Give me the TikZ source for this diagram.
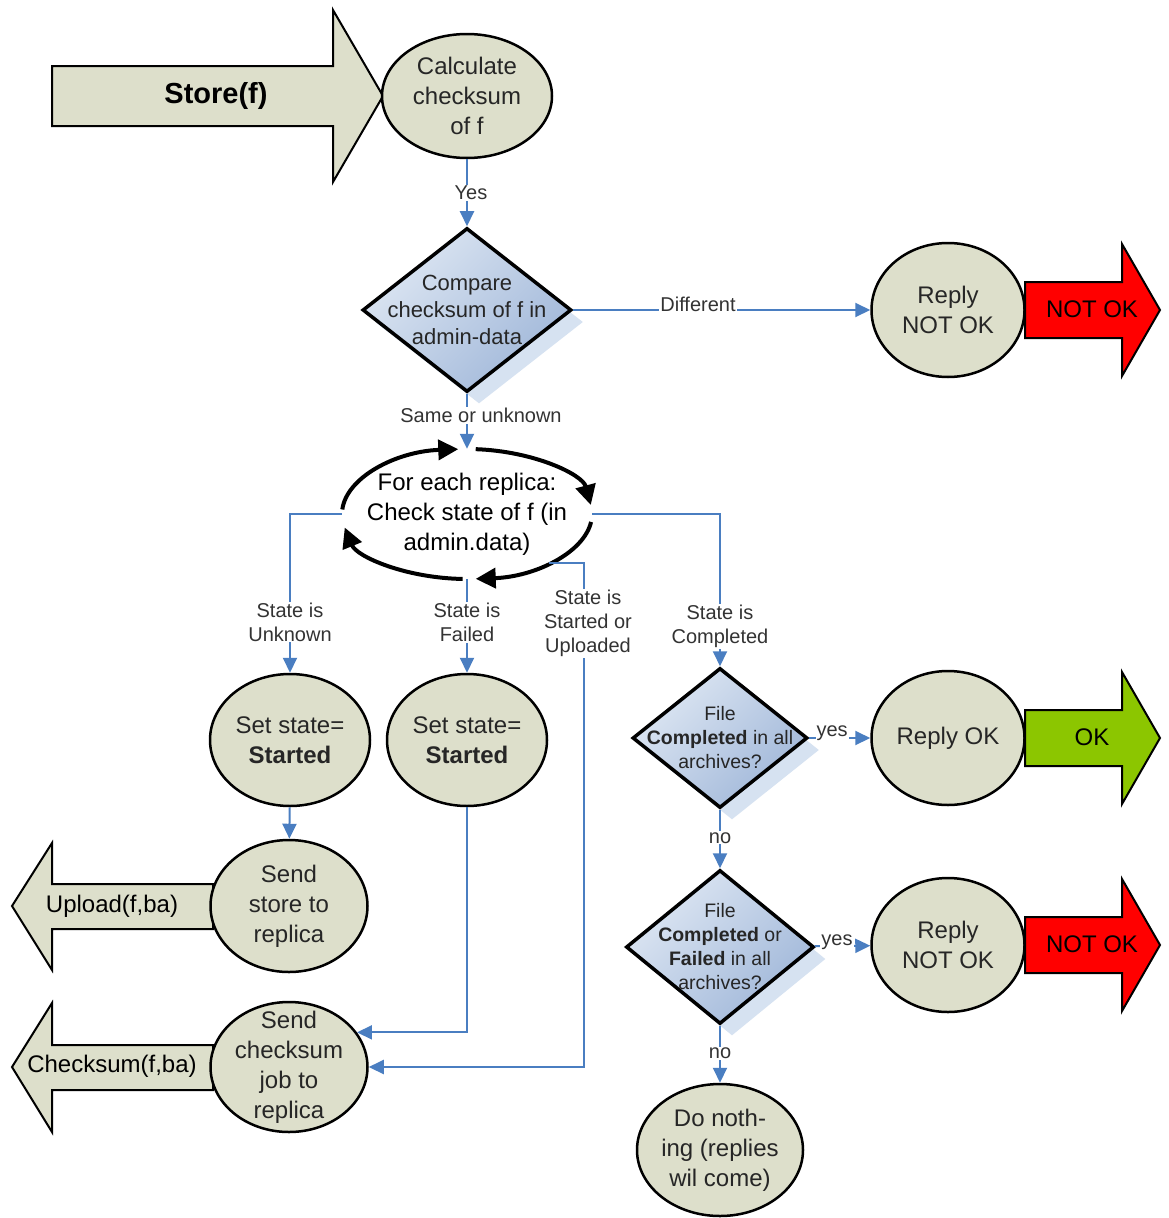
\documentclass[tikz,border=0pt]{standalone}
\usepackage{fontspec}
\setmainfont{Liberation Sans}
\usepackage{xcolor}
\usetikzlibrary{positioning, arrows.meta, shapes.geometric, shadows}

\definecolor{khaki}{RGB}{221,223,203}
\definecolor{flowblue}{RGB}{74,126,193}
\definecolor{dialight}{RGB}{222,231,243}
\definecolor{diadark}{RGB}{160,183,217}
\definecolor{diashadow}{RGB}{214,226,241}
\definecolor{okgreen}{RGB}{140,198,0}

\begin{document}
\begin{tikzpicture}[x=1pt, y=-1pt, >={Triangle[length=15pt,width=14pt]},
    font=\fontsize{24}{30}\selectfont,
    state/.style={draw, ellipse, line width=2.5pt, fill=khaki, text=black!85, align=center, inner xsep=-4pt, inner ysep=-18pt},
    decision/.style={draw, diamond, aspect=1.25, line width=3.5pt, top color=dialight, bottom color=diadark, shading angle=45, text=black!85, align=center, inner xsep=-16pt, inner ysep=-12pt, font=\fontsize{19.5}{24}\selectfont, drop shadow={shadow xshift=12pt, shadow yshift=-12pt, fill=diashadow, opacity=1}},
    flow/.style={->, flowblue, line width=2pt},
    tag/.style={fill=white, text=black!80, align=center, inner sep=1pt, font=\fontsize{20}{24}\selectfont},
    blockarrow/.style={draw, line width=2pt},
    loopline/.style={-{Triangle[length=20pt,width=20pt]}, line width=4pt}]

\path[use as bounding box, fill=white] (0,0) rectangle (1168,1218);

% Block arrows
\draw[blockarrow, fill=khaki] (52,66) -- (333,66) -- (333,10) -- (383,96) -- (333,182) -- (333,126) -- (52,126) -- cycle;
\draw[blockarrow, fill=red] (1025,282) -- (1122,282) -- (1122,244) -- (1160,310) -- (1122,376) -- (1122,338) -- (1025,338) -- cycle;
\draw[blockarrow, fill=okgreen] (1025,710) -- (1122,710) -- (1122,672) -- (1160,738) -- (1122,804) -- (1122,766) -- (1025,766) -- cycle;
\draw[blockarrow, fill=red] (1025,917) -- (1122,917) -- (1122,879) -- (1160,945) -- (1122,1011) -- (1122,973) -- (1025,973) -- cycle;
\draw[blockarrow, fill=khaki] (213,884) -- (52,884) -- (52,843) -- (12,906) -- (52,970) -- (52,929) -- (213,929) -- cycle;
\draw[blockarrow, fill=khaki] (213,1045) -- (52,1045) -- (52,1003) -- (12,1067) -- (52,1132) -- (52,1090) -- (213,1090) -- cycle;

\node[font=\fontsize{29}{34}\selectfont\bfseries] (store) at (216,96) {Store(f)};
\node (notok1) at (1092,309) {NOT OK};
\node (ok) at (1092,737) {OK};
\node (notok2) at (1092,944) {NOT OK};
\node (upload) at (112,906) {Upload(f,ba)};
\node (chk) at (112,1066) {Checksum(f,ba)};

% States
\node[state, minimum width=170, minimum height=124] (calc) at (467,96) {Calculate\\checksum\\of f};
\node[state, minimum width=153, minimum height=134] (rno1) at (948,310) {Reply\\NOT OK};
\node[state, minimum width=160, minimum height=132] (set1) at (290,740) {Set state=\\\textbf{Started}};
\node[state, minimum width=160, minimum height=132] (set2) at (467,740) {Set state=\\\textbf{Started}};
\node[state, minimum width=157, minimum height=132] (send1) at (289,906) {Send\\store to\\replica};
\node[state, minimum width=157, minimum height=130] (send2) at (289,1067) {Send\\checksum\\job to\\replica};
\node[state, minimum width=153, minimum height=134] (rok) at (948,738) {Reply OK};
\node[state, minimum width=153, minimum height=134] (rno2) at (948,945) {Reply\\NOT OK};
\node[state, minimum width=166, minimum height=132] (nothing) at (720,1150) {Do noth-\\ing (replies\\wil come)};

% Decisions
\node[decision, minimum width=209, minimum height=164, font=\fontsize{22}{27}\selectfont] (cmp) at (467,310) {Compare\\checksum of f in\\admin-data};
\node[decision, minimum width=175, minimum height=140] (allok) at (720,738) {File\\\textbf{Completed} in all\\archives?};
\node[decision, minimum width=188, minimum height=154] (alldone) at (720,947) {File\\\textbf{Completed} or\\\textbf{Failed} in all\\archives?};

% Replica loop
\node[ellipse, align=center, inner xsep=-40pt, inner ysep=-20pt, minimum width=250, minimum height=130] (loop) at (467,514) {For each replica:\\Check state of f (in\\admin.data)};
\foreach \a/\b in {184/266, 274/352, 7/86, 92/168}
    \draw[loopline] (loop.center) ++(\a:125 and 65) arc[start angle=\a, end angle=\b, x radius=125, y radius=65];

\coordinate (upl) at (584,1067);

% Connections
\draw[flow] (calc) -- node[tag, xshift=4pt] {Yes} (cmp);
\draw[flow] (cmp) -- node[tag, pos=0.42, yshift=6pt] {Different} (rno1);
\draw[flow] (cmp) -- node[tag, pos=0.4, xshift=14pt] {Same or unknown} (loop);
\draw[flow] (loop.west) -| node[tag, pos=0.84] {State is\\Unknown} (set1);
\draw[flow] (loop) -- node[tag, pos=0.46] {State is\\Failed} (set2);
\draw[flow] (loop.-31) -| node[tag, pos=0.56, xshift=4pt] {State is\\Started or\\Uploaded} (upl) -- (send2);
\draw[flow] (loop.east) -| node[tag, pos=0.87] {State is\\Completed} (allok);
\draw[flow] (set1) -- (send1);
\draw[flow] (set2) |- (send2.27);
\draw[flow] (allok) -- node[tag, pos=0.375, yshift=5pt] {yes} (rok);
\draw[flow] (allok) -- node[tag, pos=0.48] {no} (alldone);
\draw[flow] (alldone) -- node[tag, pos=0.4, yshift=4pt] {yes} (rno2);
\draw[flow] (alldone) -- node[tag, pos=0.48] {no} (nothing);

\end{tikzpicture}
\end{document}
